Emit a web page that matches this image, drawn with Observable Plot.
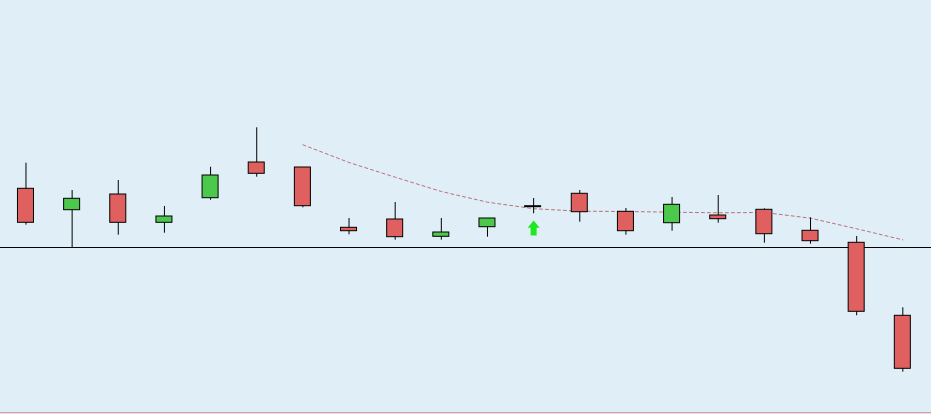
<!DOCTYPE html>
<html>
<head>
<meta charset="utf-8">
<script src="https://cdn.jsdelivr.net/npm/d3@7"></script>
<script src="https://cdn.jsdelivr.net/npm/@observablehq/plot@0.6"></script>
<style>
  html, body { margin: 0; padding: 0; background: #e0eff7; }
  #chart svg { display: block; background: #e0eff7; }
  #edge { height: 1px; background: #c7a4ac; }
  #strip { height: 1px; background: #f1dbe0; }
</style>
</head>
<body>
<div id="chart"></div>
<div id="edge"></div>
<div id="strip"></div>
<script>
// Candle data (levels relative to the reference line at 0)
const periods = d3.range(20);
const opens  = [58.7, 37.3, 53.0, 24.7, 49.3, 85.0, 80.0, 19.7, 28.0, 10.7, 20.3, 41.3, 53.7, 35.7, 24.3, 32.0, 37.7, 16.7, 4.7, -68.3];
const highs  = [84.3, 57.0, 67.0, 41.0, 80.3, 119.7, 80.0, 29.0, 45.0, 29.0, 29.0, 49.0, 57.0, 39.0, 50.0, 52.0, 38.7, 29.7, 11.0, -60.3];
const lows   = [22.3, 0.0, 12.3, 14.3, 47.3, 70.3, 39.7, 12.7, 7.3, 7.3, 10.3, 33.7, 25.3, 12.3, 16.3, 24.3, 4.3, 3.3, -68.3, -124.7];
const closes = [24.7, 48.7, 24.7, 31.0, 72.0, 73.7, 41.3, 16.3, 10.3, 15.0, 29.0, 41.3, 35.3, 16.3, 42.7, 28.3, 13.3, 6.3, -64.3, -121.3];
const movingAvg = [null, null, null, null, null, null, 102.7, 85.0, 70.3, 56.0, 45.3, 38.8, 36.3, 36.0, 35.3, 34.7, 35.0, 29.3, 18.7, 7.7];
const referenceLevel = [0];
const signalPeriods = [11];
const signalLevels = [19.5];

const candles = periods.map((p, k) => ({
  p, open: opens[k], high: highs[k], low: lows[k], close: closes[k]
}));
const bodies = candles.filter(d => d.open !== d.close);
const dojis = candles.filter(d => d.open === d.close);
const maData = periods.map((p, k) => ({p, v: movingAvg[k]})).filter(d => d.v !== null);
const signals = signalPeriods.map((p, k) => ({p, v: signalLevels[k]}));

const upArrow = {
  draw(context, size) {
    const r = Math.sqrt(size / Math.PI);
    const hw = r * 0.8, sw = r * 0.4, hb = -r * 0.05;
    context.moveTo(0, -r);
    context.lineTo(hw, hb);
    context.lineTo(sw, hb);
    context.lineTo(sw, r);
    context.lineTo(-sw, r);
    context.lineTo(-sw, hb);
    context.lineTo(-hw, hb);
    context.closePath();
  }
};

const chart = Plot.plot({
  width: 931,
  height: 412,
  marginTop: 0,
  marginBottom: 0,
  marginLeft: 2.4,
  marginRight: 5.6,
  style: {background: "#e0eff7"},
  x: {type: "band", domain: periods, paddingInner: 0.653, paddingOuter: 0.3265, round: false, axis: null},
  y: {domain: [-165, 247], axis: null},
  marks: [
    Plot.ruleY(referenceLevel, {stroke: "black", strokeWidth: 1, insetLeft: -3, insetRight: -6}),
    Plot.line(maData, {x: "p", y: "v", stroke: "#b8707a", strokeWidth: 1, strokeDasharray: "3,3"}),
    Plot.ruleX(candles, {x: "p", y1: "low", y2: "high", stroke: "black", strokeWidth: 1}),
    Plot.barY(bodies, {
      x: "p", y1: "open", y2: "close",
      fill: d => d.close > d.open ? "#4cc94c" : "#e06060",
      stroke: "black", strokeWidth: 1
    }),
    Plot.tickY(dojis, {x: "p", y: "close", stroke: "black", strokeWidth: 2, insetLeft: -1}),
    Plot.dot(signals, {x: "p", y: "v", r: 7.5, symbol: upArrow, fill: "#1fe81f", stroke: "none"})
  ]
});
document.getElementById("chart").append(chart);
</script>
</body>
</html>
